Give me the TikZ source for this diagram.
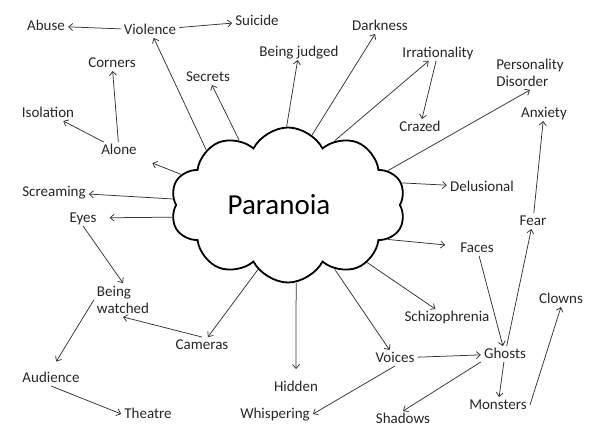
\documentclass[tikz,border=0pt]{standalone}
\usepackage{fontspec}
\setmainfont{Carlito}
\usetikzlibrary{arrows.meta,shapes.symbols}

\tikzset{
  word/.style={font=\fontsize{15}{17}\selectfont, text=black!85, inner sep=3pt,
               text height=0.95em, text depth=0em},
  twoline/.style={font=\fontsize{15}{17}\selectfont, text=black!85, inner sep=3pt,
                  align=left},
  arr/.style={draw=black!80, line width=0.75pt,
              -{Straight Barb[length=4pt,width=7pt]}},
  thought/.style={cloud, cloud puffs=10, cloud puff arc=125, cloud ignores aspect,
                  draw=black, line width=1.8pt, minimum width=235pt,
                  minimum height=155pt, inner sep=0pt}
}

\begin{document}
\begin{tikzpicture}[x=1pt,y=-1pt]
\useasboundingbox (0,0) rectangle (592,442);

% the cloud in the middle
\node[thought, label={[font=\fontsize{29}{34}\selectfont, xshift=-9pt]center:Paranoia}]
  (cloud) at (288,205) {};

% name/x/y/text
\foreach \n/\x/\y/\t in {%
  abuse/46/26/Abuse, violence/150/30/Violence, suicide/257/21/Suicide,
  corners/112/63/Corners, secrets/208/77/Secrets, judged/299/52/Being judged,
  darkness/380/26/Darkness, irrational/438/53/Irrationality, crazed/420/127/Crazed,
  anxiety/544/113/Anxiety, isolation/48/113/Isolation, alone/119/150/Alone,
  screaming/54/192/Screaming, delusional/482/187/Delusional, eyes/83/218/Eyes,
  fear/533/221/Fear, faces/477/248/Faces, clowns/561/299/Clowns,
  cameras/202/345/Cameras, schizo/447/317/Schizophrenia, voices/395/358/Voices,
  ghosts/505/354/Ghosts, audience/51/378/Audience, hidden/296/387/Hidden,
  monsters/498/405/Monsters, theatre/148/414/Theatre,
  whispering/275/414/Whispering, shadows/403/419/Shadows}
  \node[word] (\n) at (\x,\y) {\t};
\node[twoline] (personality) at (530,73) {Personality\\Disorder};
\node[twoline] (watched) at (123,300) {Being\\watched};

% out of the cloud
\draw[arr] (cloud.146) -- (violence);
\draw[arr] (cloud.127) -- (secrets);
\draw[arr] (cloud.91) -- (judged);
\draw[arr] (cloud.71) -- (darkness);
\draw[arr] (cloud.54) -- (irrational);
\draw[arr] (cloud.19) -- (personality.south);
\draw[arr] (cloud.11) -- (delusional);
\draw[arr,shorten >=12pt] (cloud.-19) -- (faces);
\draw[arr] (cloud.-36) -- (schizo);
\draw[arr] (cloud.-54) -- (voices);
\draw[arr,shorten >=10pt] (cloud.-84) -- (hidden.north);
\draw[arr] (cloud.-115) -- (cameras);
\draw[arr,shorten >=10pt] (cloud.186) -- (eyes);
\draw[arr] (cloud.177) -- (screaming);
\draw[arr,shorten >=14pt] (cloud.164) -- (alone);

% between the words
\draw[arr] (violence) -- (abuse);
\draw[arr] (violence) -- (suicide);
\draw[arr] (irrational) -- (crazed);
\draw[arr] (fear) -- (anxiety);
\draw[arr] (alone) -- (corners);
\draw[arr] (alone) -- (isolation);
\draw[arr] (eyes.south) -- (watched.north);
\draw[arr] (cameras.north) -- (watched.south);
\draw[arr,shorten >=10pt] (watched.west) -- (audience.north);
\draw[arr] (audience.south) -- (theatre.west);
\draw[arr] (voices.south) -- (whispering.east);
\draw[arr] (voices) -- (ghosts);
\draw[arr] (faces) -- (ghosts);
\draw[arr] (ghosts) -- (fear);
\draw[arr] (ghosts.south west) -- (shadows.north);
\draw[arr] (ghosts) -- (monsters);
\draw[arr] (monsters.east) -- (clowns.south);
\end{tikzpicture}
\end{document}
